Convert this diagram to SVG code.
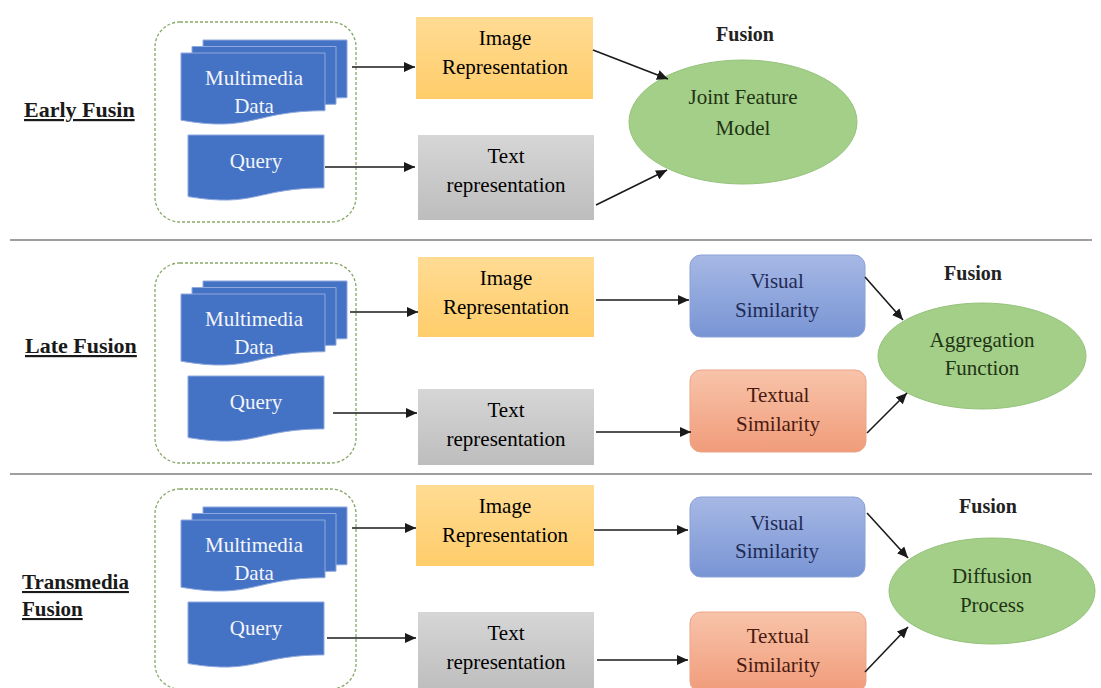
<svg xmlns="http://www.w3.org/2000/svg" width="1101" height="688" viewBox="0 0 1101 688">
<style>
text{font-family:"Liberation Serif","Times New Roman",serif;font-size:21px;text-anchor:middle}
.lbl{font-weight:bold;font-size:22px;text-anchor:start;text-decoration:underline;fill:#1a1a1a}
.lbl2{font-size:21px}
.fus{font-weight:bold;font-size:20px;fill:#222}
.w{fill:#f4f6fb}
.dash{fill:none;stroke:#86a866;stroke-width:1.3;stroke-dasharray:3 2}
.doc{fill:#4472c4;stroke:#8fa9de;stroke-width:1}
.img{fill:url(#gImg)}
.txt{fill:url(#gTxt)}
.vis{fill:url(#gVis);stroke:#8aa0d6;stroke-width:1}
.tex{fill:url(#gTex);stroke:#eba487;stroke-width:1}
.ell{fill:#a3cf88;stroke:#95c27a;stroke-width:1}
.conn path{fill:none;stroke:#1a1a1a;stroke-width:1.6;marker-end:url(#ah)}
.sep{stroke:#7f7f7f;stroke-width:1.5}
</style>
<defs>
<linearGradient id="gImg" x1="0" y1="0" x2="0" y2="1"><stop offset="0" stop-color="#ffdb93"/><stop offset="1" stop-color="#ffcd6a"/></linearGradient>
<linearGradient id="gTxt" x1="0" y1="0" x2="0" y2="1"><stop offset="0" stop-color="#d6d6d6"/><stop offset="1" stop-color="#bdbdbd"/></linearGradient>
<linearGradient id="gVis" x1="0" y1="0" x2="0" y2="1"><stop offset="0" stop-color="#a7b8e5"/><stop offset="1" stop-color="#7895d4"/></linearGradient>
<linearGradient id="gTex" x1="0" y1="0" x2="0" y2="1"><stop offset="0" stop-color="#f8c4aa"/><stop offset="1" stop-color="#f09c7a"/></linearGradient>
<marker id="ah" markerUnits="userSpaceOnUse" markerWidth="12" markerHeight="10" refX="11" refY="5" orient="auto"><path d="M0,0 L11,5 L0,10 z" fill="#1a1a1a"/></marker>
<path id="page" d="M0,0 H144 V57.7 C72,57.7 72,79.7 0,67.2 Z"/>
<path id="qpage" d="M0,0 H136 V52.9 C68,52.9 68,73 0,61.6 Z"/>
<g id="sources">
<rect class="dash" x="155" y="22" width="201" height="200" rx="25"/>
<use href="#page" class="doc" x="203" y="40"/>
<use href="#page" class="doc" x="192" y="46.5"/>
<use href="#page" class="doc" x="181" y="53"/>
<text class="w" x="254" y="85">Multimedia</text>
<text class="w" x="254" y="113">Data</text>
<use href="#qpage" class="doc" x="188" y="135"/>
<text class="w" x="256" y="168">Query</text>
</g>
</defs>

<rect width="1101" height="688" fill="#ffffff"/>
<line class="sep" x1="10" y1="240" x2="1092" y2="240"/>
<line class="sep" x1="10" y1="474" x2="1092" y2="474"/>

<!-- Early fusion -->
<g id="early-label"><text class="lbl" x="24" y="117">Early Fusin</text></g>
<g id="early-sources"><use href="#sources"/></g>
<g id="early-image"><rect class="img" x="416" y="17" width="177" height="82"/><text x="505" y="45">Image</text><text x="505" y="74">Representation</text></g>
<g id="early-text"><rect class="txt" x="418" y="135" width="176" height="85"/><text x="506" y="163">Text</text><text x="506" y="192">representation</text></g>
<g id="early-fusion-title"><text class="fus" x="745" y="41">Fusion</text></g>
<g id="early-joint"><ellipse class="ell" cx="743" cy="122" rx="114" ry="62"/><text x="743" y="104" fill="#1e3314">Joint Feature</text><text x="743" y="135" fill="#1e3314">Model</text></g>

<!-- Late fusion -->
<g id="late-label"><text class="lbl" x="25" y="353">Late Fusion</text></g>
<g id="late-sources" transform="translate(0,241)"><use href="#sources"/></g>
<g id="late-image"><rect class="img" x="418" y="257" width="176" height="80"/><text x="506" y="285">Image</text><text x="506" y="314">Representation</text></g>
<g id="late-text"><rect class="txt" x="418" y="389" width="176" height="76"/><text x="506" y="417">Text</text><text x="506" y="446">representation</text></g>
<g id="late-visual"><rect class="vis" x="690" y="255" width="175" height="82" rx="11"/><text x="777" y="288" fill="#1f2a55">Visual</text><text x="777" y="317" fill="#1f2a55">Similarity</text></g>
<g id="late-textual"><rect class="tex" x="690" y="370" width="176" height="82" rx="11"/><text x="778" y="402" fill="#4a1a10">Textual</text><text x="778" y="431" fill="#4a1a10">Similarity</text></g>
<g id="late-fusion-title"><text class="fus" x="973" y="280">Fusion</text></g>
<g id="late-aggregation"><ellipse class="ell" cx="982" cy="356" rx="104" ry="53"/><text x="982" y="347" fill="#1e3314">Aggregation</text><text x="982" y="375" fill="#1e3314">Function</text></g>

<!-- Transmedia fusion -->
<g id="trans-label"><text class="lbl lbl2" x="22" y="589">Transmedia</text><text class="lbl lbl2" x="22" y="616">Fusion</text></g>
<g id="trans-sources" transform="translate(0,467)"><use href="#sources"/></g>
<g id="trans-image"><rect class="img" x="416" y="485" width="178" height="81"/><text x="505" y="513">Image</text><text x="505" y="542">Representation</text></g>
<g id="trans-text"><rect class="txt" x="418" y="612" width="176" height="80"/><text x="506" y="640">Text</text><text x="506" y="669">representation</text></g>
<g id="trans-visual"><rect class="vis" x="690" y="497" width="175" height="80" rx="11"/><text x="777" y="530" fill="#1f2a55">Visual</text><text x="777" y="558" fill="#1f2a55">Similarity</text></g>
<g id="trans-textual"><rect class="tex" x="690" y="612" width="176" height="80" rx="11"/><text x="778" y="643" fill="#4a1a10">Textual</text><text x="778" y="672" fill="#4a1a10">Similarity</text></g>
<g id="trans-fusion-title"><text class="fus" x="988" y="513">Fusion</text></g>
<g id="trans-diffusion"><ellipse class="ell" cx="992" cy="591" rx="103" ry="53"/><text x="992" y="583" fill="#1e3314">Diffusion</text><text x="992" y="612" fill="#1e3314">Process</text></g>

<g id="connectors" class="conn">
<path d="M352,67 H415"/>
<path d="M325,167 H415"/>
<path d="M593,50 L668,79"/>
<path d="M596,205 L667,170"/>
<path d="M350,312 H418"/>
<path d="M333,413 H417"/>
<path d="M596,300 H689"/>
<path d="M596,432 H691"/>
<path d="M865,277 L903,320"/>
<path d="M867,433 L907,393"/>
<path d="M352,528 H416"/>
<path d="M327,638 H416"/>
<path d="M594,530 H688"/>
<path d="M597,660 H688"/>
<path d="M867,513 L908,558"/>
<path d="M865,672 L908,627"/>
</g>
</svg>
